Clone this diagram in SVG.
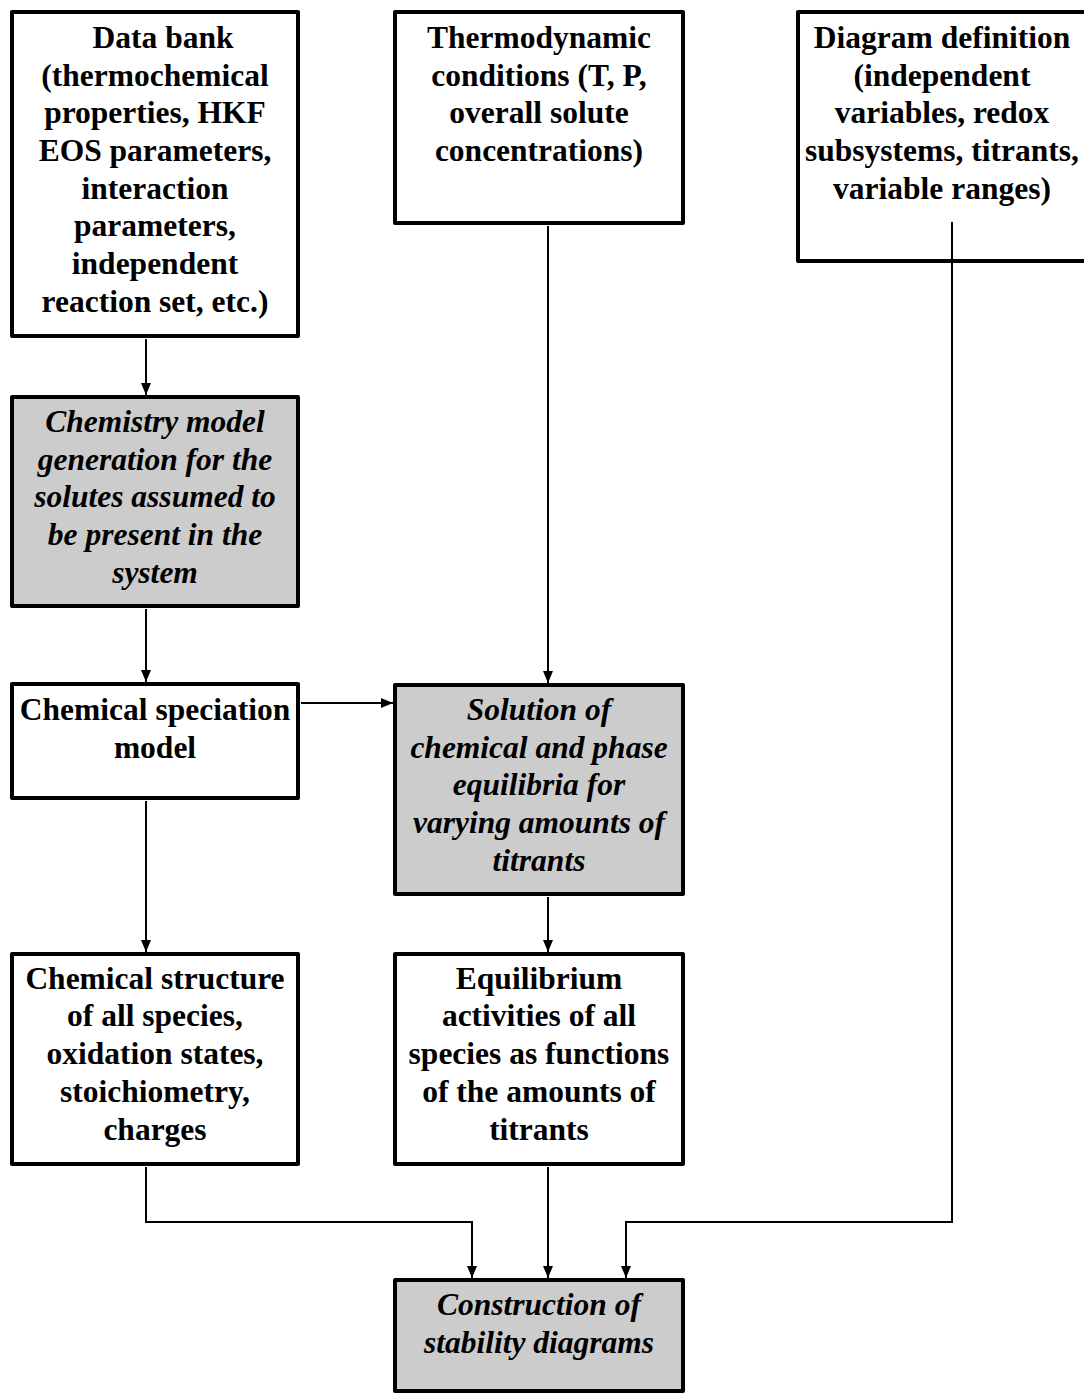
<svg xmlns="http://www.w3.org/2000/svg" width="1084" height="1395" viewBox="0 0 1084 1395">
<defs>
<marker id="ah" viewBox="0 0 12 10" refX="12" refY="5" markerWidth="12" markerHeight="10" markerUnits="userSpaceOnUse" orient="auto">
<path d="M0,0 L12,5 L0,10 Z" fill="#000"/>
</marker>
<style>
.box{fill:#fff;stroke:#000;stroke-width:4;stroke-linejoin:round}
.grey{fill:#cccccc}
.t{font-family:"Liberation Serif","Times New Roman",serif;font-size:31.5px;font-weight:bold;text-anchor:middle;fill:#000}
.i{font-style:italic}
.c{fill:none;stroke:#000;stroke-width:2;marker-end:url(#ah)}
</style>
</defs>
<rect width="1084" height="1395" fill="#fff"/>
<g id="databank">
<rect class="box" x="12" y="12" width="286" height="324"/>
<text class="t"><tspan x="163" y="48">Data bank</tspan><tspan x="155" y="86">(thermochemical</tspan><tspan x="155" y="123">properties, HKF</tspan><tspan x="155" y="161">EOS parameters,</tspan><tspan x="155" y="199">interaction</tspan><tspan x="155" y="236">parameters,</tspan><tspan x="155" y="274">independent</tspan><tspan x="155" y="312">reaction set, etc.)</tspan></text>
</g>
<g id="thermo">
<rect class="box" x="395" y="12" width="288" height="211"/>
<text class="t"><tspan x="539" y="48">Thermodynamic</tspan><tspan x="539" y="86">conditions (T, P,</tspan><tspan x="539" y="123">overall solute</tspan><tspan x="539" y="161">concentrations)</tspan></text>
</g>
<g id="diagramdef">
<rect class="box" x="798" y="12" width="290" height="249"/>
<text class="t"><tspan x="942" y="48">Diagram definition</tspan><tspan x="942" y="86">(independent</tspan><tspan x="942" y="123">variables, redox</tspan><tspan x="942" y="161">subsystems, titrants,</tspan><tspan x="942" y="199">variable ranges)</tspan></text>
</g>
<g id="chemmodel">
<rect class="box grey" x="12" y="397" width="286" height="209"/>
<text class="t i"><tspan x="155" y="432">Chemistry model</tspan><tspan x="155" y="470">generation for the</tspan><tspan x="155" y="507">solutes assumed to</tspan><tspan x="155" y="545">be present in the</tspan><tspan x="155" y="583">system</tspan></text>
</g>
<g id="speciation">
<rect class="box" x="12" y="684" width="286" height="114"/>
<text class="t"><tspan x="155" y="720">Chemical speciation</tspan><tspan x="155" y="758">model</tspan></text>
</g>
<g id="solution">
<rect class="box grey" x="395" y="685" width="288" height="209"/>
<text class="t i"><tspan x="539" y="720">Solution of</tspan><tspan x="539" y="758">chemical and phase</tspan><tspan x="539" y="795">equilibria for</tspan><tspan x="539" y="833">varying amounts of</tspan><tspan x="539" y="871">titrants</tspan></text>
</g>
<g id="structure">
<rect class="box" x="12" y="954" width="286" height="210"/>
<text class="t"><tspan x="155" y="989">Chemical structure</tspan><tspan x="155" y="1026">of all species,</tspan><tspan x="155" y="1064">oxidation states,</tspan><tspan x="155" y="1102">stoichiometry,</tspan><tspan x="155" y="1140">charges</tspan></text>
</g>
<g id="equilibrium">
<rect class="box" x="395" y="954" width="288" height="210"/>
<text class="t"><tspan x="539" y="989">Equilibrium</tspan><tspan x="539" y="1026">activities of all</tspan><tspan x="539" y="1064">species as functions</tspan><tspan x="539" y="1102">of the amounts of</tspan><tspan x="539" y="1140">titrants</tspan></text>
</g>
<g id="construction">
<rect class="box grey" x="395" y="1280" width="288" height="111"/>
<text class="t i"><tspan x="539" y="1315">Construction of</tspan><tspan x="539" y="1353">stability diagrams</tspan></text>
</g>
<g id="connectors">
<path class="c" d="M146,339 V395"/>
<path class="c" d="M146,609 V682"/>
<path class="c" d="M301,703 H393"/>
<path class="c" d="M548,226 V683"/>
<path class="c" d="M146,801 V952"/>
<path class="c" d="M548,897 V952"/>
<path class="c" d="M146,1167 V1222 H472 V1278"/>
<path class="c" d="M548,1167 V1278"/>
<path class="c" d="M952,222 V1222 H626 V1278"/>
</g>
</svg>
